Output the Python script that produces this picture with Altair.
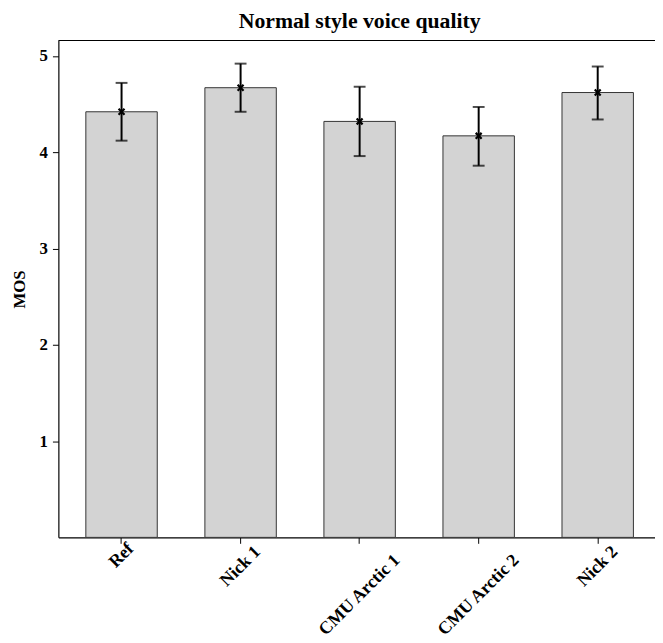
import altair as alt
import pandas as pd

categories = ["Ref", "Nick 1", "CMU Arctic 1", "CMU Arctic 2", "Nick 2"]
mos = [4.42, 4.67, 4.32, 4.17, 4.62]
err_low = [4.12, 4.42, 3.96, 3.86, 4.34]
err_high = [4.72, 4.92, 4.68, 4.47, 4.89]
y_ticks = [1, 2, 3, 4, 5]

df = pd.DataFrame({"system": categories, "mos": mos, "lo": err_low, "hi": err_high})

FONT = "Liberation Serif"
W, H = 604, 503

# label centred under its tick (rotated 45°), so longer labels sit lower
label_pad = {
    "condition": [
        {"test": "datum.value === 'Ref'", "value": 12},
        {"test": "datum.value === 'Nick 1' || datum.value === 'Nick 2'", "value": 23},
    ],
    "value": 52,
}

x = alt.X("system:N", sort=categories, title=None,
          scale=alt.Scale(paddingInner=0.4, paddingOuter=0.206, align=0.56),
          axis=alt.Axis(labelAngle=-45, labelAlign="center", labelBaseline="middle",
                        labelFont=FONT, labelFontSize=18, labelFontWeight="bold",
                        labelColor="black", tickColor="black", domainColor="black",
                        tickSize=6, labelPadding=label_pad, domainWidth=1.2, labelOverlap=False))
y = alt.Y("mos:Q", title="MOS",
          scale=alt.Scale(domain=[0, 5.16], nice=False, zero=True),
          axis=alt.Axis(values=y_ticks, format="d", grid=False, labelFont=FONT, labelFontSize=17,
                        labelFontWeight="bold", labelColor="black", tickColor="black",
                        domainColor="black", tickSize=6, labelPadding=5, domainWidth=1.2,
                        titleFont=FONT, titleFontSize=17, titleFontWeight="bold",
                        titleColor="black", titlePadding=11))

base = alt.Chart(df)
xs = alt.X("system:N", sort=categories)

bars = base.mark_bar(color="#d3d3d3", stroke="#333333", strokeWidth=1).encode(x=x, y=y)

whisk = base.mark_rule(color="black", strokeWidth=2).encode(x=xs, y="lo:Q", y2="hi:Q")
cap_lo = base.mark_tick(color="black", thickness=2, size=12, orient="horizontal").encode(x=xs, y="lo:Q")
cap_hi = base.mark_tick(color="black", thickness=2, size=12, orient="horizontal").encode(x=xs, y="hi:Q")
pts = base.mark_point(shape="M-1,-1L1,1M-1,1L1,-1", filled=False, stroke="black",
                      strokeWidth=2.2, size=36, opacity=1).encode(x=xs, y="mos:Q")

top = alt.Chart(pd.DataFrame({"a": [0]})).mark_rule(color="black", strokeWidth=1.2).encode(
    x=alt.value(0), x2=alt.value(W), y=alt.value(0))

chart = alt.layer(bars, whisk, cap_lo, cap_hi, pts, top).properties(
    width=W, height=H,
    title=alt.TitleParams("Normal style voice quality", font=FONT, fontSize=22,
                          fontWeight="bold", color="black", offset=7, dx=3, anchor="middle"),
    autosize=alt.AutoSizeParams(type="none"),
    padding={"left": 51, "top": 29, "right": 0, "bottom": 103},
).configure_view(stroke=None)

chart.save("out.html", embed_options={"renderer": "svg", "actions": False})
